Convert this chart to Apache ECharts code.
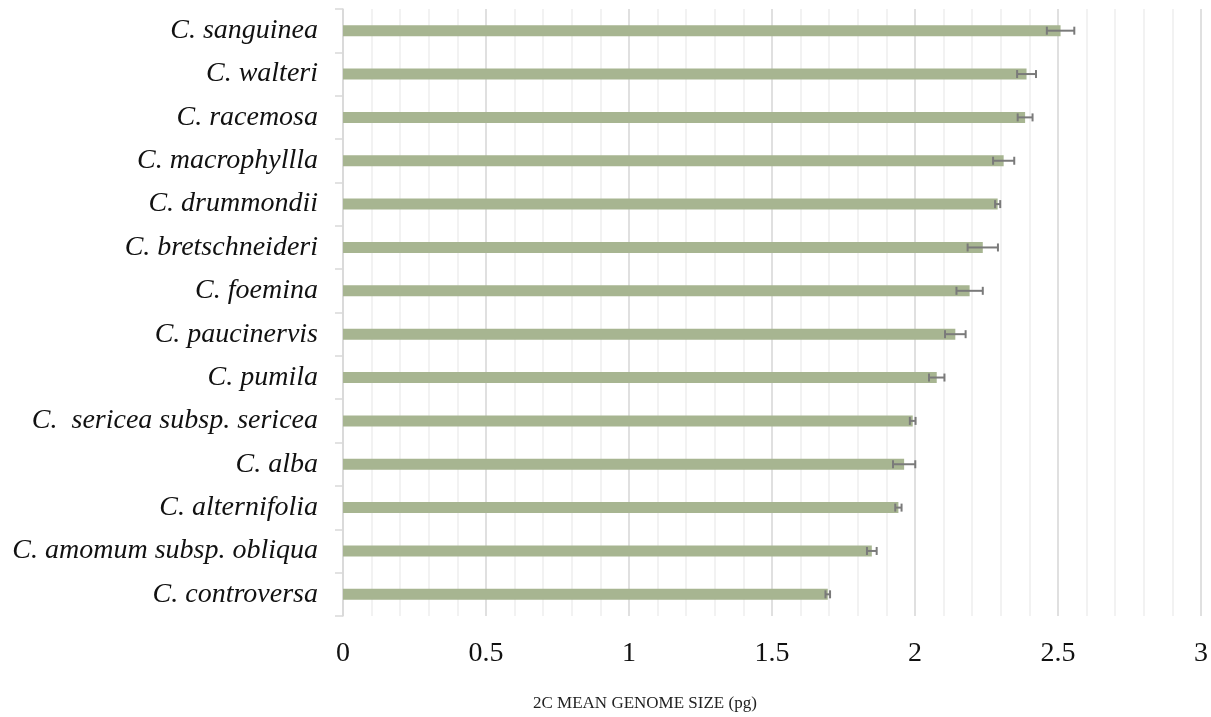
<!DOCTYPE html>
<html>
<head>
<meta charset="utf-8">
<script src="https://cdn.jsdelivr.net/npm/echarts@6/dist/echarts.min.js"></script>
<style>
  html, body { margin: 0; padding: 0; background: #fff; }
  #main { width: 1211px; height: 717px; }
</style>
</head>
<body>
<div id="main"></div>
<script>
// 物种（自下而上）
var species = [
    'C. controversa',
    'C. amomum subsp. obliqua',
    'C. alternifolia',
    'C. alba',
    'C.  sericea subsp. sericea',
    'C. pumila',
    'C. paucinervis',
    'C. foemina',
    'C. bretschneideri',
    'C. drummondii',
    'C. macrophyllla',
    'C. racemosa',
    'C. walteri',
    'C. sanguinea'
];
// 平均基因组大小 (pg)
var genomeSize = [1.695, 1.849, 1.942, 1.962, 1.992, 2.076, 2.141, 2.191, 2.237, 2.289, 2.31, 2.385, 2.39, 2.509];
// 误差（±）
var errorSize = [0.008, 0.017, 0.011, 0.039, 0.01, 0.027, 0.036, 0.046, 0.053, 0.009, 0.037, 0.026, 0.033, 0.048];
var xTicks = [0, 0.5, 1, 1.5, 2, 2.5, 3];

var errorData = species.map(function (name, i) {
    return [i, genomeSize[i] - errorSize[i], genomeSize[i] + errorSize[i]];
});

var myChart = echarts.init(document.getElementById('main'));

var option = {
    animation: false,
    backgroundColor: '#ffffff',
    // x轴标题（原图中不在绘图区正中）
    title: {
        text: '2C MEAN GENOME SIZE (pg)',
        left: 533,
        top: 695,
        padding: 0,
        textStyle: {
            fontFamily: 'Liberation Serif',
            fontSize: 17,
            fontWeight: 'normal',
            color: '#222'
        }
    },
    grid: {
        left: 343,
        right: 10,
        top: 9,
        bottom: 101
    },
    xAxis: {
        type: 'value',
        min: 0,
        max: 3,
        interval: 0.5,
        axisLine: { show: false },
        axisTick: { show: false },
        axisLabel: {
            margin: 24,
            fontFamily: 'Liberation Serif',
            fontSize: 28,
            color: '#111',
            formatter: function (v) {
                return xTicks.indexOf(v) >= 0 ? String(v) : '';
            }
        },
        splitLine: {
            show: true,
            lineStyle: { color: '#d6d6d6', width: 1.5 }
        },
        minorTick: { show: false, splitNumber: 5 },
        minorSplitLine: {
            show: true,
            lineStyle: { color: '#eeeeee', width: 1.5 }
        }
    },
    yAxis: {
        type: 'category',
        data: species,
        axisLine: {
            show: true,
            lineStyle: { color: '#d9d9d9', width: 1.5 }
        },
        axisTick: {
            show: true,
            length: 8,
            lineStyle: { color: '#d9d9d9', width: 1.5 }
        },
        axisLabel: {
            margin: 25,
            fontFamily: 'Liberation Serif',
            fontStyle: 'italic',
            fontSize: 28,
            color: '#111'
        },
        splitLine: { show: false }
    },
    series: [{
        type: 'bar',
        data: genomeSize,
        barWidth: 11,
        itemStyle: { color: '#a7b591' }
    }, {
        // 误差线
        type: 'custom',
        data: errorData,
        z: 5,
        renderItem: function (params, api) {
            var i = api.value(0);
            var lo = api.coord([api.value(1), i]);
            var hi = api.coord([api.value(2), i]);
            var h = 4;
            var style = { stroke: '#7a7a7a', lineWidth: 2, fill: null };
            return {
                type: 'group',
                children: [
                    { type: 'line', shape: { x1: lo[0], y1: lo[1], x2: hi[0], y2: hi[1] }, style: style },
                    { type: 'line', shape: { x1: lo[0], y1: lo[1] - h, x2: lo[0], y2: lo[1] + h }, style: style },
                    { type: 'line', shape: { x1: hi[0], y1: hi[1] - h, x2: hi[0], y2: hi[1] + h }, style: style }
                ]
            };
        }
    }]
};

myChart.setOption(option);
</script>
</body>
</html>
